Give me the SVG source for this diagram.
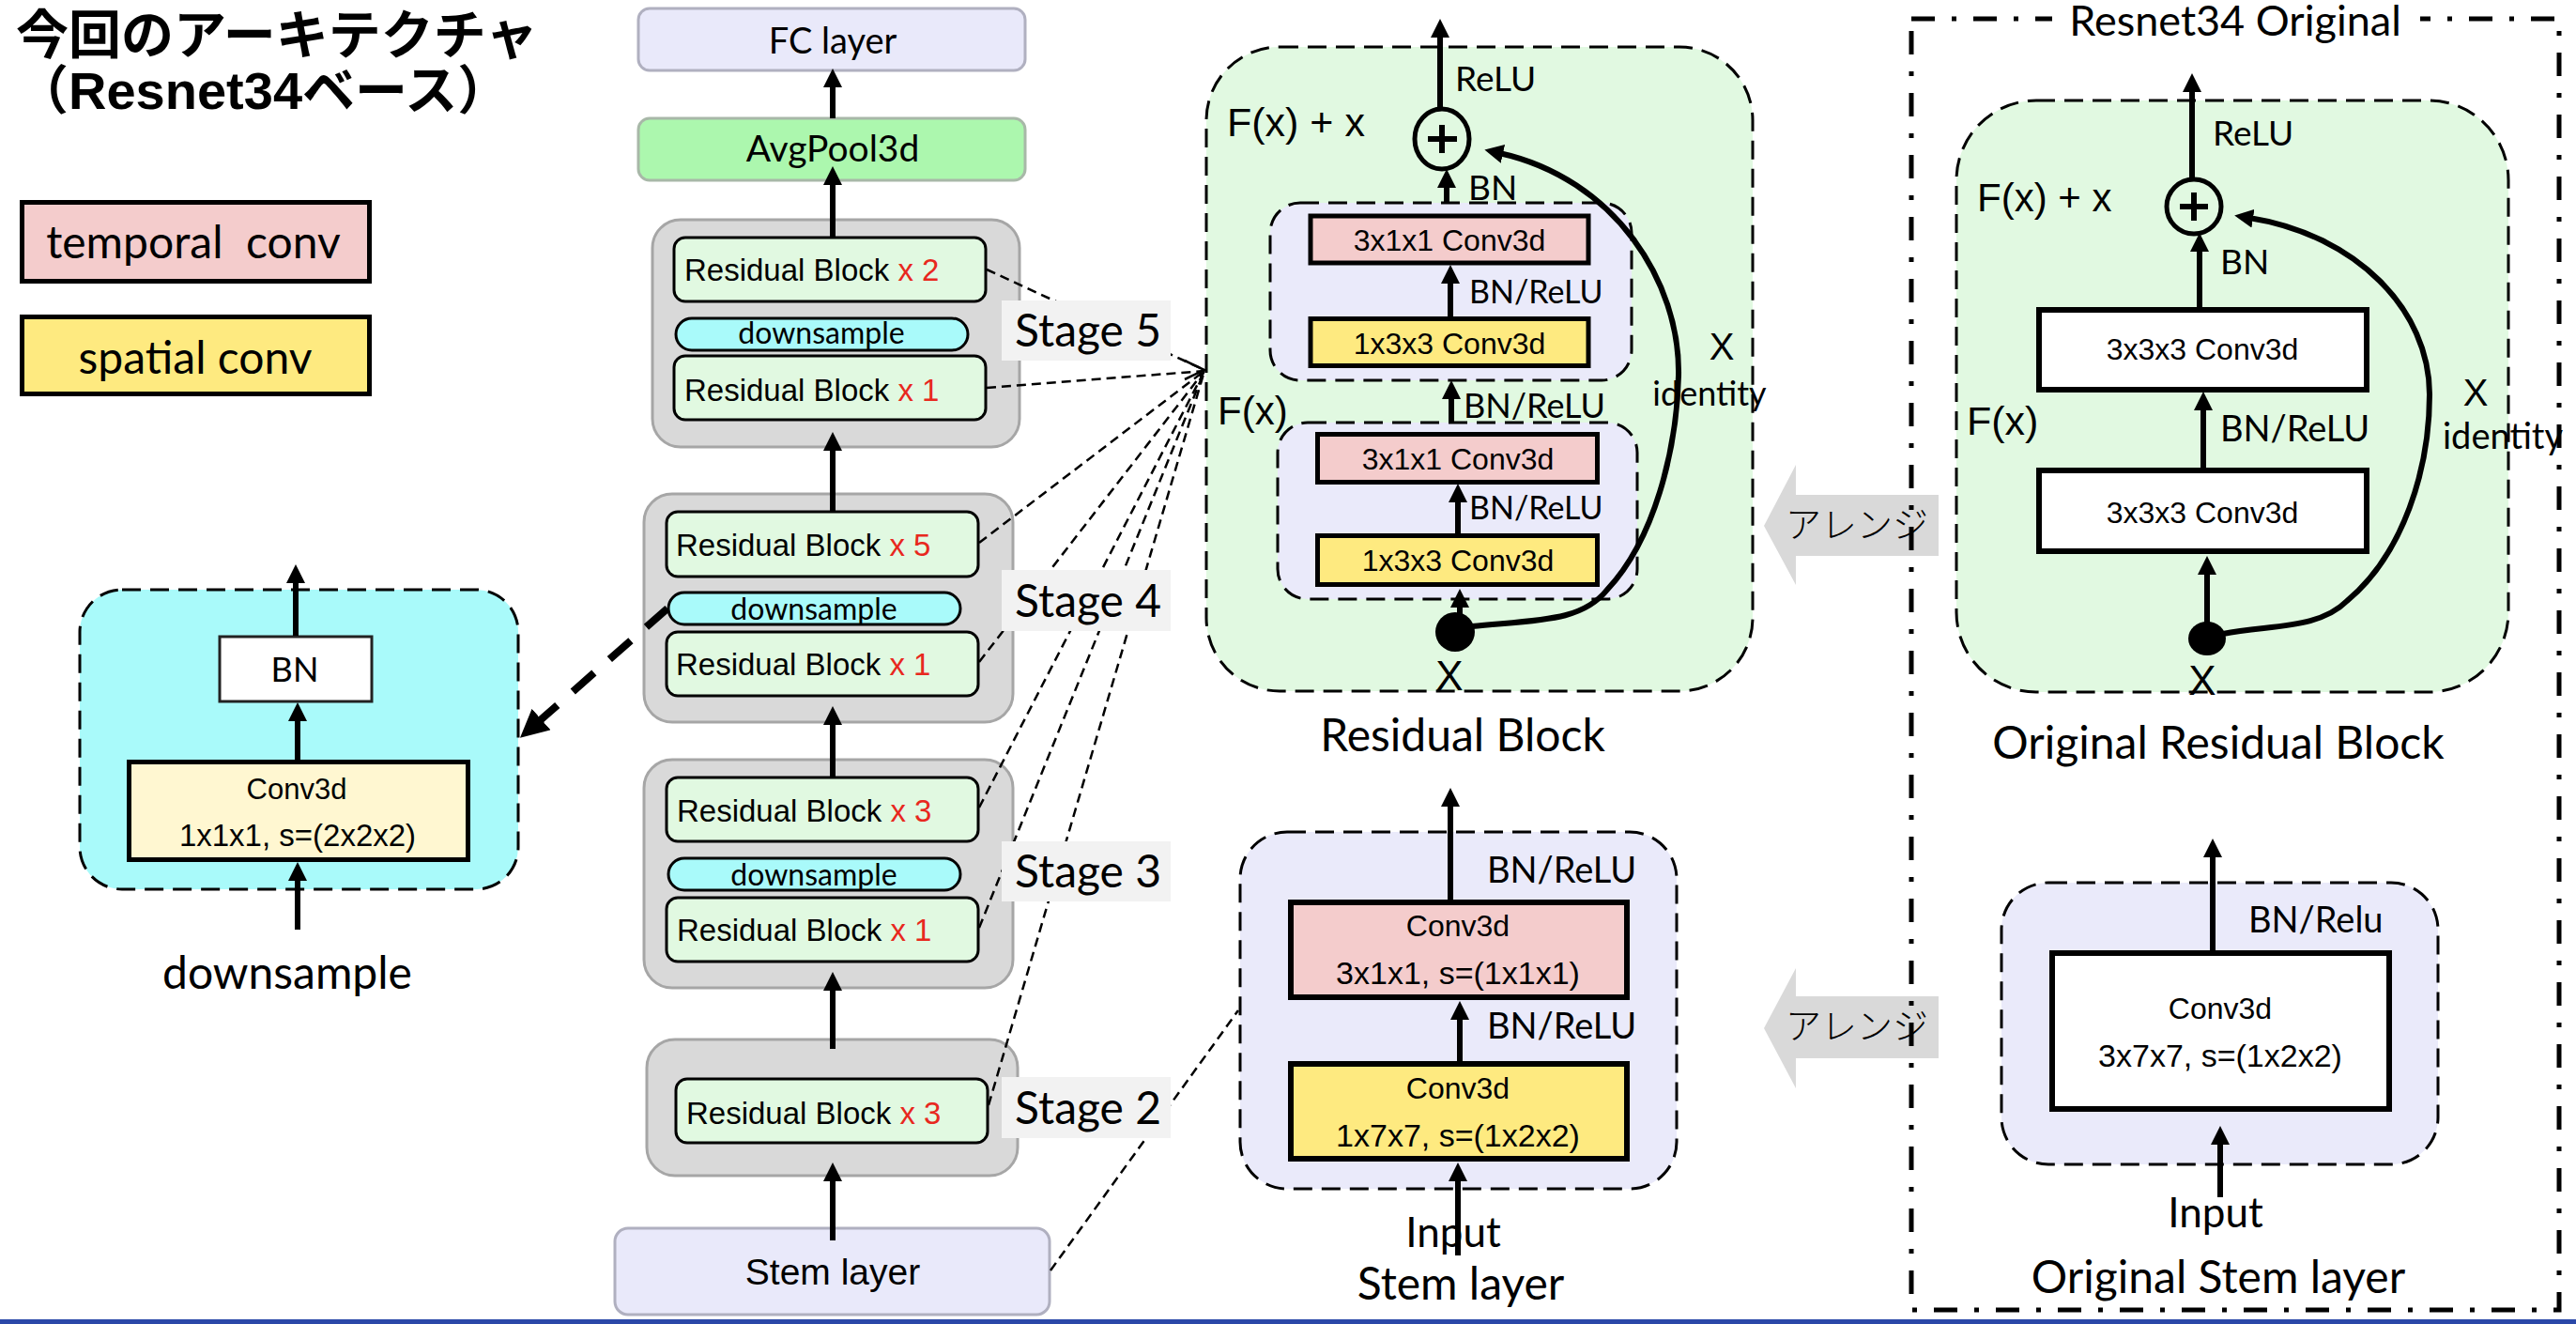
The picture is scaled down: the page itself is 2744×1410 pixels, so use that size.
<svg xmlns="http://www.w3.org/2000/svg" width="2744" height="1410" viewBox="0 0 2744 1410">
<defs>
<style>
.cal{font-family:Lato,"Open Sans","Noto Sans",sans-serif;fill:#000}
.ari{font-family:"Liberation Sans",Arial,sans-serif;fill:#000}
.jp{font-family:"Noto Sans CJK JP","Noto Sans CJK SC",sans-serif}
.mid{text-anchor:middle}
.red{fill:#E8281E}
.ln{stroke:#000;stroke-width:6;fill:none}
.dash{stroke:#000;stroke-width:3;stroke-dasharray:20 10}
.conv{stroke:#000;stroke-width:5}
.pink{fill:#F4CCCC}
.yel{fill:#FEEA80}
.lav{fill:#EAEAFA}
.grn{fill:#E1F9E1}
.stage{fill:#D9D9D9;stroke:#A6A6A6;stroke-width:3}
.rb{fill:#E1F9E1;stroke:#000;stroke-width:3}
.pill{fill:#A9FAFA;stroke:#000;stroke-width:3}
.slab{fill:#F2F2F2}
.link{stroke:#000;stroke-width:2.5;stroke-dasharray:10 6;fill:none}
.arr{fill:#D9D9D9}
</style>
<marker id="ah" viewBox="0 0 20 20" markerWidth="20" markerHeight="20" refX="4" refY="10" orient="auto" markerUnits="userSpaceOnUse">
<path d="M0,0 L20,10 L0,20 z" fill="#000"/>
</marker>
<marker id="ahb" viewBox="0 0 30 30" markerWidth="30" markerHeight="30" refX="6" refY="15" orient="auto" markerUnits="userSpaceOnUse">
<path d="M0,0 L30,15 L0,30 z" fill="#000"/>
</marker>
</defs>
<rect width="2744" height="1410" fill="#FFFFFF"/>

<g id="title">
<text x="17" y="57" class="jp" font-size="56" font-weight="bold">今回のアーキテクチャ</text>
<text x="17" y="116" font-size="56" font-weight="bold" style="font-family:'Liberation Sans','Noto Sans CJK JP',sans-serif">（Resnet34ベース）</text>
</g>

<g id="legend-temporal">
<rect x="23.5" y="215.5" width="370" height="84" class="pink conv"/>
<text x="206" y="275" class="cal mid" font-size="48" xml:space="preserve">temporal  conv</text>
</g>
<g id="legend-spatial">
<rect x="23.5" y="337.5" width="370" height="82" class="yel conv"/>
<text x="208" y="398" class="cal mid" font-size="48">spatial conv</text>
</g>

<g id="fc-layer">
<rect x="680" y="9" width="412" height="66" rx="12" fill="#E9E9FA" stroke="#B0B0C0" stroke-width="3"/>
<text x="887" y="57" class="cal mid" font-size="38">FC layer</text>
</g>
<g id="avgpool">
<rect x="680" y="126" width="412" height="66" rx="12" fill="#ACF7AE" stroke="#A8B8A8" stroke-width="3"/>
<text x="887" y="172" class="cal mid" font-size="39">AvgPool3d</text>
</g>

<g id="stage5">
<rect x="695" y="234" width="391" height="242" rx="30" class="stage"/>
<rect x="718" y="253" width="332" height="68" rx="12" class="rb"/>
<text x="729" y="299" class="ari" font-size="33">Residual Block <tspan class="red">x 2</tspan></text>
<rect x="720" y="339" width="311" height="34" rx="17" class="pill"/>
<text x="875" y="366" class="cal mid" font-size="32">downsample</text>
<rect x="718" y="379" width="332" height="68" rx="12" class="rb"/>
<text x="729" y="427" class="ari" font-size="33">Residual Block <tspan class="red">x 1</tspan></text>
</g>
<g id="stage4">
<rect x="686" y="526" width="393" height="243" rx="30" class="stage"/>
<rect x="710" y="545" width="332" height="69" rx="12" class="rb"/>
<text x="720" y="592" class="ari" font-size="33">Residual Block <tspan class="red">x 5</tspan></text>
<rect x="712" y="631" width="311" height="34" rx="17" class="pill"/>
<text x="867" y="660" class="cal mid" font-size="32">downsample</text>
<rect x="710" y="673" width="332" height="68" rx="12" class="rb"/>
<text x="720" y="719" class="ari" font-size="33">Residual Block <tspan class="red">x 1</tspan></text>
</g>
<g id="stage3">
<rect x="686" y="809" width="393" height="243" rx="30" class="stage"/>
<rect x="710" y="828" width="332" height="68" rx="12" class="rb"/>
<text x="721" y="875" class="ari" font-size="33">Residual Block <tspan class="red">x 3</tspan></text>
<rect x="712" y="914" width="311" height="34" rx="17" class="pill"/>
<text x="867" y="943" class="cal mid" font-size="32">downsample</text>
<rect x="710" y="956" width="332" height="68" rx="12" class="rb"/>
<text x="721" y="1002" class="ari" font-size="33">Residual Block <tspan class="red">x 1</tspan></text>
</g>
<g id="stage2">
<rect x="689" y="1107" width="395" height="145" rx="30" class="stage"/>
<rect x="720" y="1149" width="332" height="68" rx="12" class="rb"/>
<text x="731" y="1197" class="ari" font-size="33">Residual Block <tspan class="red">x 3</tspan></text>
</g>
<g id="stem-layer">
<rect x="655" y="1308" width="463" height="92" rx="14" fill="#E9E9FA" stroke="#B0B0C0" stroke-width="3"/>
<text x="887" y="1368" class="ari mid" font-size="39">Stem layer</text>
</g>

<g id="downsample-detail">
<rect x="85" y="628" width="467" height="319" rx="45" fill="#A9FAFA" class="dash"/>
<rect x="234" y="678" width="162" height="69" fill="#FFFFFF" stroke="#222" stroke-width="3"/>
<text x="314" y="726" class="cal mid" font-size="36">BN</text>
<rect x="137.5" y="811.5" width="361" height="104" fill="#FFF7D1" class="conv"/>
<text x="316" y="851" class="ari mid" font-size="31">Conv3d</text>
<text x="317" y="901" class="ari mid" font-size="33">1x1x1, s=(2x2x2)</text>
<text x="306" y="1053" class="cal mid" font-size="48">downsample</text>
</g>

<g id="residual-block">
<rect x="1285" y="50" width="582" height="686" rx="78" class="grn dash"/>
<text x="1307" y="145" class="ari" font-size="43">F(x) + x</text>
<text x="1550" y="97" class="cal" font-size="37">ReLU</text>
<ellipse cx="1536" cy="148" rx="29" ry="32" fill="none" stroke="#000" stroke-width="5"/>
<path d="M1521,148 H1552 M1536,133 V163" stroke="#000" stroke-width="6"/>
<rect x="1353" y="216" width="385" height="189" rx="32" class="lav dash"/>
<text x="1564" y="213" class="cal" font-size="37">BN</text>
<rect x="1396" y="230" width="296" height="50" class="pink conv"/>
<text x="1544" y="267" class="ari mid" font-size="32">3x1x1 Conv3d</text>
<text x="1565" y="323" class="cal" font-size="34">BN/ReLU</text>
<rect x="1396" y="339.5" width="296" height="50" class="yel conv"/>
<text x="1544" y="377" class="ari mid" font-size="32">1x3x3 Conv3d</text>
<text x="1834" y="383" class="ari mid" font-size="40">X</text>
<text x="1821" y="432" class="cal mid" font-size="36">identity</text>
<text x="1297" y="452" class="ari" font-size="42">F(x)</text>
<rect x="1361" y="450" width="383" height="188" rx="32" class="lav dash"/>
<text x="1559" y="445" class="cal" font-size="36">BN/ReLU</text>
<rect x="1403.5" y="462.5" width="298" height="51" class="pink conv"/>
<text x="1553" y="500" class="ari mid" font-size="32">3x1x1 Conv3d</text>
<text x="1565" y="553" class="cal" font-size="34">BN/ReLU</text>
<rect x="1403.5" y="570.5" width="298" height="52" class="yel conv"/>
<text x="1553" y="608" class="ari mid" font-size="32">1x3x3 Conv3d</text>
<circle cx="1550" cy="673" r="21" fill="#000"/>
<text x="1544" y="735" class="ari mid" font-size="44">X</text>
<text x="1558" y="800" class="cal mid" font-size="48">Residual Block</text>
</g>

<g id="stem-detail">
<rect x="1321" y="886" width="465" height="380" rx="50" class="lav dash"/>
<text x="1584" y="940" class="cal" font-size="38">BN/ReLU</text>
<rect x="1375" y="961" width="358" height="101" class="pink" stroke="#000" stroke-width="6"/>
<text x="1553" y="997" class="ari mid" font-size="32">Conv3d</text>
<text x="1553" y="1048" class="ari mid" font-size="34">3x1x1, s=(1x1x1)</text>
<text x="1584" y="1106" class="cal" font-size="38">BN/ReLU</text>
<rect x="1375" y="1133" width="358" height="101" class="yel" stroke="#000" stroke-width="6"/>
<text x="1553" y="1170" class="ari mid" font-size="32">Conv3d</text>
<text x="1553" y="1221" class="ari mid" font-size="34">1x7x7, s=(1x2x2)</text>
<text x="1548" y="1328" class="cal mid" font-size="44">Input</text>
<text x="1556" y="1384" class="cal mid" font-size="48">Stem layer</text>
</g>

<g id="arrange-1">
<polygon points="1879,560 1913,495 1913,527 2065,527 2065,592 1913,592 1913,623" class="arr"/>
<text x="1902" y="572" class="jp" font-size="38" font-weight="300">アレンジ</text>
</g>
<g id="arrange-2">
<polygon points="1879,1095 1913,1031 1913,1061 2065,1061 2065,1127 1913,1127 1913,1159" class="arr"/>
<text x="1902" y="1106" class="jp" font-size="38" font-weight="300">アレンジ</text>
</g>

<g id="original-frame">
<rect x="2036" y="20" width="690" height="1375" fill="none" stroke="#000" stroke-width="5" stroke-dasharray="25 18 5 18"/>
<rect x="2186" y="6" width="392" height="30" fill="#FFFFFF"/>
<text x="2381" y="38" class="cal mid" font-size="45">Resnet34 Original</text>
</g>

<g id="original-residual-block">
<rect x="2084" y="107" width="588" height="630" rx="85" class="grn dash"/>
<text x="2106" y="225" class="ari" font-size="42">F(x) + x</text>
<text x="2357" y="155" class="cal" font-size="37">ReLU</text>
<circle cx="2337" cy="220" r="29" fill="none" stroke="#000" stroke-width="5"/>
<path d="M2322,220 H2352 M2337,205 V235" stroke="#000" stroke-width="6"/>
<text x="2365" y="292" class="cal" font-size="37">BN</text>
<rect x="2172" y="330" width="349" height="85" fill="#FFFFFF" stroke="#000" stroke-width="6"/>
<text x="2346" y="383" class="ari mid" font-size="32">3x3x3 Conv3d</text>
<text x="2095" y="463" class="ari" font-size="43">F(x)</text>
<text x="2365" y="470" class="cal" font-size="38">BN/ReLU</text>
<text x="2637" y="432" class="ari mid" font-size="40">X</text>
<text x="2666" y="478" class="cal mid" font-size="38">identity</text>
<rect x="2172" y="501" width="349" height="86" fill="#FFFFFF" stroke="#000" stroke-width="6"/>
<text x="2346" y="557" class="ari mid" font-size="32">3x3x3 Conv3d</text>
<ellipse cx="2351" cy="680" rx="20" ry="18" fill="#000"/>
<text x="2346" y="740" class="ari mid" font-size="44">X</text>
<text x="2363" y="808" class="cal mid" font-size="48">Original Residual Block</text>
</g>

<g id="original-stem">
<rect x="2132" y="940" width="465" height="300" rx="50" class="lav dash"/>
<text x="2395" y="993" class="cal" font-size="38">BN/Relu</text>
<rect x="2186" y="1015" width="359" height="166" fill="#FFFFFF" stroke="#000" stroke-width="6"/>
<text x="2365" y="1085" class="ari mid" font-size="32">Conv3d</text>
<text x="2365" y="1136" class="ari mid" font-size="34">3x7x7, s=(1x2x2)</text>
<text x="2360" y="1307" class="cal mid" font-size="44">Input</text>
<text x="2363" y="1377" class="cal mid" font-size="48">Original Stem layer</text>
</g>

<g id="connectors">
<g id="main-arrows" class="ln">
<path d="M887,126 V89" marker-end="url(#ah)"/>
<path d="M887,252 V193" marker-end="url(#ah)"/>
<path d="M887,544 V476" marker-end="url(#ah)"/>
<path d="M887,827 V768" marker-end="url(#ah)"/>
<path d="M887,1117 V1051" marker-end="url(#ah)"/>
<path d="M887,1321 V1254" marker-end="url(#ah)"/>
</g>
<g id="stage-links" class="link">
<path d="M1051,287 L1283,394"/>
<path d="M1051,413 L1283,395"/>
<path d="M1043,578 L1283,395"/>
<path d="M1043,705 L1283,395"/>
<path d="M1043,860 L1283,395"/>
<path d="M1043,988 L1283,395"/>
<path d="M1053,1177 L1283,395"/>
<path d="M1119,1353 L1319,1076"/>
<path d="M1262,384 L1283,394 L1262,404" stroke-dasharray="none"/>
</g>
<path id="downsample-link" d="M711,648 L572,770" stroke="#000" stroke-width="8" stroke-dasharray="30 22" fill="none" marker-end="url(#ahb)"/>
<g id="downsample-arrows" class="ln">
<path d="M317,990 V934" marker-end="url(#ah)"/>
<path d="M317,809 V764" marker-end="url(#ah)"/>
<path d="M315,677 V617" marker-end="url(#ah)"/>
</g>
<g id="residual-arrows" class="ln">
<path d="M1534,116 V36" marker-end="url(#ah)"/>
<path d="M1541,217 V196" marker-end="url(#ah)"/>
<path d="M1545,337 V298" marker-end="url(#ah)"/>
<path d="M1546,450 V421" marker-end="url(#ah)"/>
<path d="M1553,568 V531" marker-end="url(#ah)"/>
<path d="M1555,655 V643" marker-end="url(#ah)"/>
<path d="M1568,667 C1640,660 1685,662 1712,628 C1762,575 1786,480 1788,400 C1790,300 1720,190 1597,163" marker-end="url(#ah)"/>
</g>
<g id="stem-arrows" class="ln">
<path d="M1545,961 V855" marker-end="url(#ah)"/>
<path d="M1555,1130 V1082" marker-end="url(#ah)"/>
<path d="M1553,1337 V1254" marker-end="url(#ah)"/>
</g>
<g id="original-arrows" class="ln">
<path d="M2335,192 V94" marker-end="url(#ah)"/>
<path d="M2343,327 V264" marker-end="url(#ah)"/>
<path d="M2347,498 V433" marker-end="url(#ah)"/>
<path d="M2351,665 V608" marker-end="url(#ah)"/>
<path d="M2368,675 C2420,665 2470,670 2500,640 C2560,590 2588,500 2588,420 C2588,330 2510,250 2396,232" marker-end="url(#ah)"/>
<path d="M2357,1015 V909" marker-end="url(#ah)"/>
<path d="M2365,1275 V1215" marker-end="url(#ah)"/>
</g>
</g>

<g id="stage-labels">
<rect x="1067" y="320" width="180" height="64" class="slab"/>
<text x="1081" y="369" class="cal" font-size="48">Stage 5</text>
<rect x="1067" y="607" width="180" height="65" class="slab"/>
<text x="1081" y="657" class="cal" font-size="48">Stage 4</text>
<rect x="1067" y="896" width="180" height="64" class="slab"/>
<text x="1081" y="945" class="cal" font-size="48">Stage 3</text>
<rect x="1067" y="1147" width="180" height="65" class="slab"/>
<text x="1081" y="1197" class="cal" font-size="48">Stage 2</text>
</g>

<rect x="0" y="1405" width="2744" height="5" fill="#2B48A8"/>
</svg>
